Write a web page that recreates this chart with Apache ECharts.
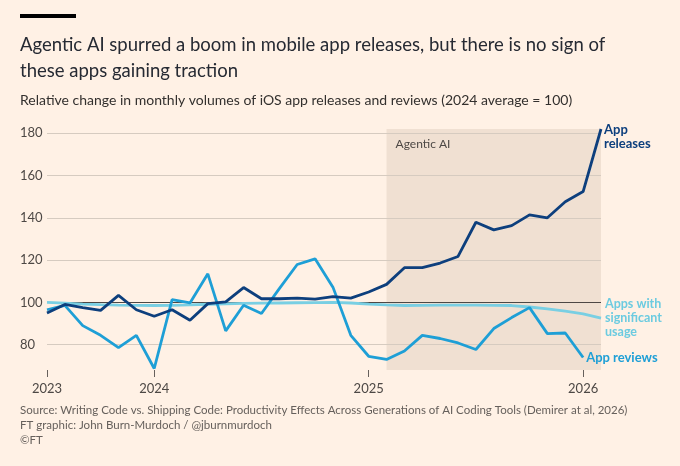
<!DOCTYPE html>
<html>
<head>
<meta charset="utf-8">
<script src="https://cdn.jsdelivr.net/npm/echarts@6/dist/echarts.min.js"></script>
<style>
  html, body { margin: 0; padding: 0; background: #fff1e5; }
  #chart { width: 680px; height: 466px; }
</style>
</head>
<body>
<div id="chart"></div>
<script>
// 2023 bimonthly, then monthly from 2024
var months = ['2023-01','2023-03','2023-05','2023-07','2023-09','2023-11',
  '2024-01','2024-02','2024-03','2024-04','2024-05','2024-06','2024-07','2024-08','2024-09','2024-10','2024-11','2024-12',
  '2025-01','2025-02','2025-03','2025-04','2025-05','2025-06','2025-07','2025-08','2025-09','2025-10','2025-11','2025-12',
  '2026-01','2026-02'];
var releases = [95, 99, 97.5, 96.2, 103.3, 96.5, 93.4, 96.5, 91.5, 99.4, 100.2, 107, 101.7, 101.7, 102, 101.5, 102.7, 102,
  104.9, 108.5, 116.4, 116.4, 118.6, 121.7, 137.9, 134.3, 136.3, 141.4, 140, 147.6, 152.4, 182];
var reviews = [96.5, 98.6, 89, 84.4, 78.6, 84.4, 68.7, 101.3, 99.7, 113.5, 86.5, 98.6, 94.7, 106.5, 117.9, 120.6, 107.2, 84.4,
  74.5, 73, 77, 84.4, 82.9, 80.8, 77.7, 87.6, 92.8, 97.5, 85.2, 85.5, 73.9, null];
var usage = [100, 99.6, 99.2, 98.9, 98.7, 98.6, 98.5, 98.6, 98.8, 99.1, 99.3, 99.5, 99.6, 99.7, 99.8, 99.9, 100, 99.7,
  99.2, 98.8, 98.5, 98.6, 98.7, 98.7, 98.7, 98.6, 98.5, 97.8, 96.9, 95.8, 94.6, 92.5];
var yTicks = [80, 100, 120, 140, 160, 180];
var yearTicks = { '2023-01': '2023', '2024-01': '2024', '2025-01': '2025', '2026-01': '2026' };
var agenticStart = '2025-02', agenticEnd = '2026-02';

var chart = echarts.init(document.getElementById('chart'));
var font = 'Lato, "Open Sans", sans-serif';

var gridLines = yTicks.map(function (v) {
  return { yAxis: v, lineStyle: { color: v === 100 ? '#4d4845' : '#d6cbc0', width: 1, type: 'solid' } };
});

var option = {
  backgroundColor: '#fff1e5',
  textStyle: { fontFamily: font },
  graphic: [
    { type: 'rect', left: 20, top: 14, shape: { width: 56, height: 4 }, style: { fill: '#000' } },
    { type: 'text', left: 20, top: 32, style: { text: 'Agentic AI spurred a boom in mobile app releases, but there is no sign of\nthese apps gaining traction', font: '18.5px ' + font, fill: '#262a33', lineHeight: 26 } },
    { type: 'text', left: 20, top: 93, style: { text: 'Relative change in monthly volumes of iOS app releases and reviews (2024 average = 100)', font: '14px ' + font, fill: '#33302e' } },
    { type: 'text', left: 20, top: 403, style: { text: 'Source: Writing Code vs. Shipping Code: Productivity Effects Across Generations of AI Coding Tools (Demirer at al, 2026)\nFT graphic: John Burn-Murdoch / @jburnmurdoch\n©FT', font: '11.5px ' + font, fill: '#66605c', lineHeight: 15 } }
  ],
  grid: { left: 47, right: 79, top: 129, bottom: 96 },
  xAxis: {
    type: 'category', data: months, boundaryGap: false,
    axisLine: { show: false },
    axisTick: { show: true, length: 7, lineStyle: { color: '#66605c' }, interval: function (i, v) { return !!yearTicks[v]; } },
    axisLabel: { interval: function (i, v) { return !!yearTicks[v]; }, formatter: function (v) { return yearTicks[v] || ''; }, color: '#4d4845', fontSize: 13, margin: 12 },
    splitLine: { show: false }
  },
  yAxis: {
    type: 'value', min: 68, max: 182,
    axisLine: { show: false }, axisTick: { show: false }, splitLine: { show: false },
    axisLabel: { customValues: yTicks, color: '#4d4845', fontSize: 13, align: 'left', margin: 27 }
  },
  series: [
    {
      name: 'Apps with significant usage', type: 'line', data: usage, symbol: 'none', z: 3,
      lineStyle: { color: '#79cfe3', width: 2.8 },
      markLine: { silent: true, symbol: 'none', label: { show: false }, data: gridLines, z: 1 },
      markArea: { silent: true, itemStyle: { color: 'rgba(195,175,155,0.25)' },
        label: { show: true, position: 'insideTopLeft', color: '#4d4845', fontSize: 12, offset: [4, 4] },
        data: [[{ name: 'Agentic AI', xAxis: agenticStart }, { xAxis: agenticEnd }]] },
      endLabel: { show: true, formatter: 'Apps with\nsignificant\nusage', color: '#6ccbe0', fontSize: 12.5, fontWeight: 'bold', lineHeight: 14, distance: 4 }
    },
    {
      name: 'App reviews', type: 'line', data: reviews, symbol: 'none', z: 4,
      lineStyle: { color: '#1e9fd6', width: 2.8 },
      endLabel: { show: true, formatter: 'App reviews', color: '#1e9fd6', fontSize: 13, fontWeight: 'bold', distance: 3 }
    },
    {
      name: 'App releases', type: 'line', data: releases, symbol: 'none', z: 5,
      lineStyle: { color: '#0d3f7d', width: 2.8 },
      endLabel: { show: true, formatter: 'App\nreleases', color: '#0d3f7d', fontSize: 13, fontWeight: 'bold', lineHeight: 14, distance: 3, offset: [0, 8] }
    }
  ]
};
chart.setOption(option);
</script>
</body>
</html>
